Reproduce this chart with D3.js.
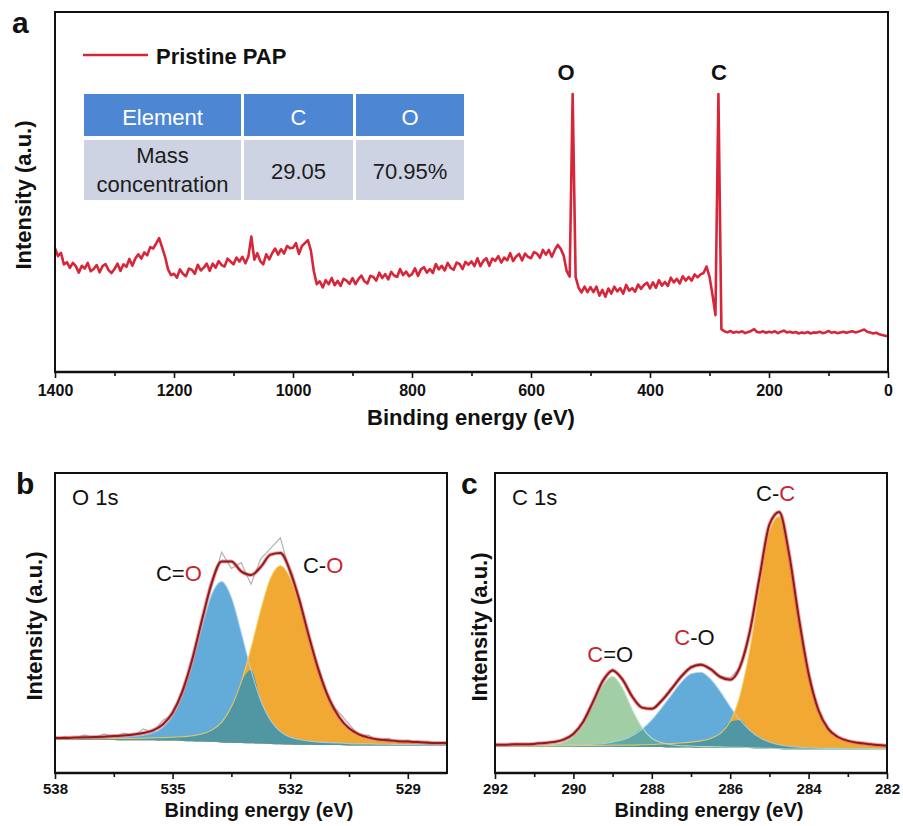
<!DOCTYPE html>
<html>
<head>
<meta charset="utf-8">
<script src="https://cdn.jsdelivr.net/npm/d3@7"></script>
<style>
  body { margin: 0; background: #fff; }
  svg { display: block; font-family: "Liberation Sans", Arial, Helvetica, sans-serif; }
</style>
</head>
<body>
<svg id="fig" width="903" height="826"></svg>
<script>
// ---------- Survey spectrum of pristine PAP (5 eV steps, 1400 -> 0 eV) ----------
const surveyIntensity = [
  34.4, 32.2, 33.1, 29.9, 30.5, 28.9, 30.3, 29.4, 27.6, 29.5, 28.7, 30.3, 28.0, 28.6, 29.7, 27.7, 29.4, 30.0, 28.3, 27.5,
  28.6, 30.1, 28.1, 29.9, 29.2, 31.4, 29.5, 31.5, 32.7, 31.5, 33.2, 32.4, 34.7, 34.3, 35.7, 37.2, 34.6, 32.0, 28.5, 26.9,
  27.3, 26.2, 28.5, 27.3, 26.6, 28.7, 28.4, 27.3, 29.8, 28.2, 29.0, 30.1, 28.1, 30.1, 29.0, 30.8, 29.7, 29.3, 31.5, 30.7,
  29.9, 31.8, 30.7, 32.0, 30.2, 32.1, 37.6, 31.2, 33.0, 30.8, 29.9, 32.7, 31.3, 33.0, 34.3, 32.6, 34.1, 32.9, 35.0, 34.4,
  34.5, 35.8, 32.8, 35.0, 35.8, 36.6, 33.8, 28.0, 24.4, 25.2, 23.5, 25.5, 24.4, 26.1, 24.1, 25.3, 23.9, 25.9, 25.4, 24.5,
  26.1, 24.4, 25.8, 26.8, 25.2, 24.6, 26.7, 26.4, 25.4, 27.6, 26.1, 27.2, 25.7, 27.8, 26.8, 26.4, 28.6, 26.9, 27.9, 26.6,
  27.2, 28.8, 26.7, 28.5, 29.1, 27.6, 28.6, 27.5, 30.0, 28.5, 29.5, 28.2, 30.3, 28.9, 28.4, 30.4, 30.0, 28.6, 30.6, 29.8,
  30.7, 29.4, 31.6, 29.4, 30.9, 31.6, 29.5, 31.5, 30.9, 32.2, 30.4, 31.8, 31.0, 33.0, 30.8, 32.1, 32.8, 31.0, 32.9, 32.0,
  31.6, 33.3, 32.9, 31.7, 33.9, 32.6, 33.9, 32.0, 33.9, 35.3, 34.2, 32.3, 28.0, 26.5, 77.2, 26.4, 23.4, 22.1, 23.7, 22.2,
  23.6, 22.2, 23.7, 21.2, 22.8, 20.9, 23.2, 21.8, 23.7, 22.4, 23.3, 21.8, 24.2, 22.6, 23.3, 22.3, 24.3, 23.1, 24.2, 24.8,
  23.2, 24.9, 23.4, 25.5, 24.0, 25.0, 23.9, 26.2, 24.9, 25.9, 24.6, 26.6, 25.4, 26.4, 25.4, 27.1, 26.3, 27.1, 27.5, 29.3,
  26.5, 21.5, 15.8, 77.2, 11.9, 11.3, 11.0, 11.4, 10.9, 11.2, 11.0, 11.3, 10.8, 11.1, 11.4, 11.9, 11.1, 11.0, 11.3, 10.9,
  11.2, 11.0, 11.3, 10.8, 11.2, 11.5, 11.0, 11.2, 10.9, 11.1, 10.7, 11.0, 10.8, 11.1, 10.7, 11.0, 10.9, 11.2, 10.8, 11.0,
  11.4, 10.9, 11.1, 10.8, 11.0, 11.2, 10.9, 11.1, 11.3, 11.0, 11.2, 11.5, 11.8, 11.2, 11.0, 10.7, 10.9, 10.5, 10.3, 10.1,
  9.9
];
const surveyEnergy = surveyIntensity.map((_, i) => 1400 - 5 * i);
const surveyTicks = [1400, 1200, 1000, 800, 600, 400, 200, 0];
const surveyMinorTicks = [1300, 1100, 900, 700, 500, 300, 100];
const surveyPeakLabels = [{ text: "O", e: 541, v: 81 }, { text: "C", e: 284, v: 81 }];

// Element table
const tableHeader = ["Element", "C", "O"];
const tableRowLabel = ["Mass", "concentration"];
const tableRowValues = ["29.05", "70.95%"];

// ---------- O 1s high-resolution spectrum (0.25 eV steps, 538 -> 528 eV) ----------
const o1sEnergy = d3.range(41).map(i => 538 - 0.25 * i);
const o1sBackground = [
  11.0, 11.0, 11.0, 11.0, 11.0, 11.0, 11.0, 10.9, 10.9, 10.9, 10.9, 10.8, 10.8, 10.7, 10.6, 10.5, 10.4, 10.2, 10.1, 10.0,
  9.9, 9.8, 9.7, 9.6, 9.5, 9.4, 9.4, 9.3, 9.3, 9.3, 9.2, 9.2, 9.2, 9.2, 9.2, 9.2, 9.2, 9.2, 9.2, 9.2, 9.2
];
const o1sCdoubleO = [
  0.4, 0.4, 0.5, 0.5, 0.6, 0.7, 0.8, 1.0, 1.3, 1.7, 2.5, 4.4, 8.2, 15.0, 25.4, 38.0, 49.2, 53.6, 48.4, 36.9,
  24.4, 14.3, 7.8, 4.2, 2.4, 1.7, 1.2, 1.0, 0.8, 0.7, 0.6, 0.5, 0.5, 0.4, 0.4, 0.3, 0.3, 0.3, 0.2, 0.2, 0.2
];
const o1sCsingleO = [
  0.3, 0.3, 0.3, 0.4, 0.4, 0.4, 0.5, 0.6, 0.6, 0.7, 0.8, 1.0, 1.1, 1.4, 1.8, 2.5, 3.9, 6.7, 12.0, 20.3,
  31.7, 44.6, 55.3, 59.5, 55.4, 45.7, 33.9, 22.9, 14.4, 8.6, 5.1, 3.2, 2.1, 1.6, 1.3, 1.1, 1.0, 0.8, 0.7, 0.6, 0.6
];
const o1sRaw = [
  11.3, 12.2, 11.5, 12.7, 11.7, 13.0, 12.0, 13.3, 12.3, 14.7, 13.6, 17.6, 19.3, 28.0, 37.1, 51.9, 62.4, 73.6, 68.2, 70.1,
  62.9, 71.4, 74.9, 78.4, 66.1, 58.0, 43.2, 34.0, 23.8, 20.1, 16.4, 12.4, 12.6, 10.7, 11.5, 10.2, 11.0, 9.9, 10.6, 9.6, 10.3
];
const o1sTicks = [538, 535, 532, 529];
const o1sMinorTicks = [536.5, 533.5, 530.5];

// ---------- C 1s high-resolution spectrum (0.25 eV steps, 292 -> 282 eV) ----------
const c1sEnergy = d3.range(41).map(i => 292 - 0.25 * i);
const c1sBackground = [
  8.8, 8.8, 8.8, 8.8, 8.8, 8.8, 8.8, 8.8, 8.8, 8.8, 8.8, 8.8, 8.8, 8.7, 8.7, 8.7, 8.7, 8.7, 8.6, 8.6,
  8.6, 8.5, 8.5, 8.5, 8.4, 8.4, 8.3, 8.2, 8.1, 8.0, 7.9, 7.9, 7.8, 7.8, 7.8, 7.8, 7.8, 7.8, 7.8, 7.8, 7.8
];
const c1sCdoubleO = [
  0.2, 0.2, 0.3, 0.3, 0.4, 0.6, 0.8, 1.5, 3.4, 7.3, 13.7, 20.5, 23.4, 19.6, 12.5, 6.5, 2.9, 1.4, 0.8, 0.5,
  0.4, 0.3, 0.3, 0.2, 0.2, 0.2, 0.1, 0.1, 0.1, 0.1, 0.1, 0.1, 0.1, 0.1, 0.1, 0.1, 0.1, 0.1, 0.1, 0.0, 0.0
];
const c1sCsingleO = [
  0.2, 0.2, 0.3, 0.3, 0.3, 0.4, 0.4, 0.5, 0.5, 0.6, 0.8, 1.0, 1.5, 2.3, 3.7, 5.9, 9.0, 13.0, 17.4, 21.6,
  24.5, 25.1, 22.8, 18.6, 13.7, 9.3, 5.9, 3.6, 2.2, 1.4, 1.0, 0.7, 0.6, 0.5, 0.4, 0.4, 0.3, 0.3, 0.3, 0.2, 0.2
];
const c1sCC = [
  0.2, 0.2, 0.2, 0.2, 0.2, 0.2, 0.3, 0.3, 0.3, 0.4, 0.4, 0.4, 0.5, 0.6, 0.6, 0.7, 0.8, 1.0, 1.2, 1.4,
  1.7, 2.2, 3.0, 4.7, 8.8, 17.5, 32.8, 53.5, 72.4, 77.5, 64.2, 43.1, 24.6, 12.6, 6.4, 3.7, 2.5, 1.9, 1.5, 1.3, 1.1
];
const c1sRaw = [
  9.5, 9.3, 9.7, 9.5, 9.9, 9.9, 10.5, 11.0, 13.2, 17.0, 23.9, 30.9, 34.8, 31.6, 25.3, 22.0, 21.2, 24.3, 28.2, 32.6,
  35.7, 36.5, 34.9, 32.3, 31.6, 35.2, 47.3, 65.2, 83.1, 87.3, 73.5, 51.6, 33.3, 20.8, 14.9, 11.8, 10.9, 9.9, 9.8, 9.2, 9.3
];
const c1sTicks = [292, 290, 288, 286, 284, 282];
const c1sMinorTicks = [291, 289, 287, 285, 283];

// ---------- styling ----------
const INK = "#111";
const RED_LABEL = "#c4262e";
const SURVEY_RED = "#d7263a";
const COL = {
  blue: "#63acd9", orange: "#f1a933", green: "#a2cea5",
  blueOrange: "#5196a3", greenBlue: "#61a7a2",
  blueEdge: "#a8d5ee", orangeEdge: "#f4cf5e", greenEdge: "#c6e3c6",
  raw: "#b3b3b3", envHalo: "#e25a5e", envCore: "#8f1b1d"
};

const svg = d3.select("#fig");
svg.append("defs");

function drawAxis(g, x, y0, major, minor, fontSize, pad) {
  const minorAxis = g.append("g").attr("transform", `translate(0,${y0})`)
    .call(d3.axisBottom(x).tickValues(minor).tickSize(4).tickSizeOuter(0).tickFormat(""));
  minorAxis.select(".domain").remove();
  const majorAxis = g.append("g").attr("transform", `translate(0,${y0})`)
    .call(d3.axisBottom(x).tickValues(major).tickSize(6).tickSizeOuter(0).tickPadding(pad).tickFormat(d3.format("d")));
  majorAxis.select(".domain").remove();
  g.selectAll(".tick line").attr("stroke", INK).attr("stroke-width", 1.6);
  majorAxis.selectAll(".tick text")
    .attr("fill", INK).attr("font-size", fontSize).attr("font-weight", "bold")
    .attr("font-family", '"Liberation Sans", Arial, sans-serif');
}

function frame(g, x0, y0, x1, y1) {
  g.append("rect").attr("x", x0).attr("y", y0).attr("width", x1 - x0).attr("height", y1 - y0)
    .attr("fill", "none").attr("stroke", INK).attr("stroke-width", 2);
  g.append("line").attr("x1", x0).attr("x2", x1).attr("y1", y1).attr("y2", y1)
    .attr("stroke", INK).attr("stroke-width", 2.6);
}

function panelLetter(text, x, y) {
  svg.append("text").attr("x", x).attr("y", y).text(text)
    .attr("font-size", 30).attr("font-weight", "bold").attr("fill", INK);
}

function yTitle(cx, cy, size) {
  svg.append("text").attr("transform", `translate(${cx},${cy}) rotate(-90)`)
    .attr("text-anchor", "middle").attr("dy", "0.35em")
    .attr("font-size", size).attr("font-weight", "bold").attr("fill", INK)
    .text("Intensity (a.u.)");
}

function xTitle(cx, by, size) {
  svg.append("text").attr("x", cx).attr("y", by).attr("text-anchor", "middle")
    .attr("font-size", size).attr("font-weight", "bold").attr("fill", INK)
    .text("Binding energy (eV)");
}

// ================= Panel a: survey =================
const A = { x0: 55, x1: 888, y0: 12, y1: 372 };
const xA = d3.scaleLinear().domain([1400, 0]).range([A.x0, A.x1]);
const yA = d3.scaleLinear().domain([0, 100]).range([A.y1, A.y0]);
const gA = svg.append("g");

svg.select("defs").append("clipPath").attr("id", "clipA")
  .append("rect").attr("x", A.x0).attr("y", A.y0).attr("width", A.x1 - A.x0).attr("height", A.y1 - A.y0);

gA.append("path")
  .datum(surveyEnergy.map((e, i) => [e, surveyIntensity[i]]))
  .attr("clip-path", "url(#clipA)")
  .attr("fill", "none").attr("stroke", SURVEY_RED).attr("stroke-width", 2.6)
  .attr("stroke-linejoin", "round")
  .attr("d", d3.line().x(d => xA(d[0])).y(d => yA(d[1])));

frame(gA, A.x0, A.y0, A.x1, A.y1);
drawAxis(gA, xA, A.y1, surveyTicks, surveyMinorTicks, 16, 7);

surveyPeakLabels.forEach(p => {
  gA.append("text").attr("x", xA(p.e)).attr("y", yA(p.v)).attr("text-anchor", "middle")
    .attr("font-size", 22).attr("font-weight", "bold").attr("fill", INK).text(p.text);
});

// legend
gA.append("line").attr("x1", 83).attr("x2", 148).attr("y1", 55).attr("y2", 55)
  .attr("stroke", SURVEY_RED).attr("stroke-width", 2.6);
gA.append("text").attr("x", 156).attr("y", 64).attr("font-size", 22).attr("font-weight", "bold")
  .attr("fill", INK).text("Pristine PAP");

// element table
const colEdges = [[84, 241], [244, 353], [356, 464]];
const headerBand = [94, 136], rowBand = [140, 200];
const tbl = gA.append("g");
colEdges.forEach(([l, r], i) => {
  tbl.append("rect").attr("x", l).attr("y", headerBand[0]).attr("width", r - l)
    .attr("height", headerBand[1] - headerBand[0]).attr("fill", "#4d87d3");
  tbl.append("rect").attr("x", l).attr("y", rowBand[0]).attr("width", r - l)
    .attr("height", rowBand[1] - rowBand[0]).attr("fill", "#cdd3e2");
  tbl.append("text").attr("x", (l + r) / 2).attr("y", 125).attr("text-anchor", "middle")
    .attr("font-size", 22).attr("fill", "#fff").text(tableHeader[i]);
});
const c0 = (colEdges[0][0] + colEdges[0][1]) / 2;
tbl.append("text").attr("x", c0).attr("y", 163).attr("text-anchor", "middle")
  .attr("font-size", 22).attr("fill", "#1c1c1c").text(tableRowLabel[0]);
tbl.append("text").attr("x", c0).attr("y", 192).attr("text-anchor", "middle")
  .attr("font-size", 22).attr("fill", "#1c1c1c").text(tableRowLabel[1]);
tableRowValues.forEach((t, i) => {
  const [l, r] = colEdges[i + 1];
  tbl.append("text").attr("x", (l + r) / 2).attr("y", 179).attr("text-anchor", "middle")
    .attr("font-size", 22).attr("fill", "#1c1c1c").text(t);
});

panelLetter("a", 12, 33);
yTitle(23, 195, 22);
xTitle(471, 425, 22);

// ================= shared drawing for fitted high-resolution panels =================
function fittedPanel(opts) {
  const { box, domain, energy, bg, comps, overlaps, raw, id } = opts;
  const x = d3.scaleLinear().domain(domain).range([box.x0, box.x1]);
  const y = d3.scaleLinear().domain([0, 100]).range([box.y1, box.y0]);
  const g = svg.append("g");
  svg.select("defs").append("clipPath").attr("id", id)
    .append("rect").attr("x", box.x0).attr("y", box.y0).attr("width", box.x1 - box.x0).attr("height", box.y1 - box.y0);
  const body = g.append("g").attr("clip-path", `url(#${id})`);
  const curve = d3.curveMonotoneX;

  // measured counts
  body.append("path")
    .datum(energy.map((e, i) => [e, raw[i]]))
    .attr("fill", "none").attr("stroke", COL.raw).attr("stroke-width", 1.2)
    .attr("d", d3.line().x(d => x(d[0])).y(d => y(d[1])));

  const area = d3.area().curve(curve)
    .x(d => x(d.e)).y0(d => y(d.b)).y1(d => y(d.b + d.v));
  const top = d3.line().curve(curve).x(d => x(d.e)).y(d => y(d.b + d.v));

  comps.forEach(c => {
    const pts = energy.map((e, i) => ({ e, b: bg[i], v: c.values[i] }));
    body.append("path").datum(pts).attr("fill", c.fill).attr("d", area);
  });
  overlaps.forEach(o => {
    const pts = energy.map((e, i) => ({ e, b: bg[i], v: Math.min(o.a[i], o.b[i]) }));
    body.append("path").datum(pts).attr("fill", o.fill).attr("d", area);
  });
  comps.forEach(c => {
    const pts = energy.map((e, i) => ({ e, b: bg[i], v: c.values[i] }));
    body.append("path").datum(pts).attr("fill", "none").attr("stroke", c.edge)
      .attr("stroke-width", 1.1).attr("stroke-opacity", 0.85).attr("d", top);
  });

  // fitted envelope = background + all components
  const env = energy.map((e, i) => ({ e, b: bg[i], v: d3.sum(comps, c => c.values[i]) }));
  body.append("path").datum(env).attr("fill", "none").attr("stroke", COL.envHalo)
    .attr("stroke-width", 4).attr("stroke-opacity", 0.55).attr("d", top);
  body.append("path").datum(env).attr("fill", "none").attr("stroke", COL.envCore)
    .attr("stroke-width", 2).attr("d", top);

  frame(g, box.x0, box.y0, box.x1, box.y1);
  drawAxis(g, x, box.y1, opts.ticks, opts.minor, 15, 4);

  opts.labels.forEach(l => {
    const t = g.append("text").attr("x", x(l.e)).attr("y", y(l.v)).attr("text-anchor", "middle")
      .attr("font-size", 22).attr("fill", INK);
    l.parts.forEach(([s, red]) => t.append("tspan").attr("fill", red ? RED_LABEL : INK).text(s));
  });
  g.append("text").attr("x", box.x0 + 17).attr("y", box.y0 + 32).attr("font-size", 22)
    .attr("fill", INK).text(opts.title);
  return { x, y };
}

// ================= Panel b: O 1s =================
fittedPanel({
  id: "clipB",
  box: { x0: 55, x1: 447, y0: 473, y1: 773 },
  domain: [538, 528],
  energy: o1sEnergy, bg: o1sBackground, raw: o1sRaw,
  comps: [
    { values: o1sCdoubleO, fill: COL.blue, edge: COL.blueEdge },
    { values: o1sCsingleO, fill: COL.orange, edge: COL.orangeEdge }
  ],
  overlaps: [{ a: o1sCdoubleO, b: o1sCsingleO, fill: COL.blueOrange }],
  ticks: o1sTicks, minor: o1sMinorTicks,
  title: "O 1s",
  labels: [
    { e: 534.84, v: 64, parts: [["C=", false], ["O", true]] },
    { e: 531.16, v: 66.7, parts: [["C-", false], ["O", true]] }
  ]
});
panelLetter("b", 16, 494);
yTitle(34, 626, 22);
xTitle(259, 817, 20);

// ================= Panel c: C 1s =================
fittedPanel({
  id: "clipC",
  box: { x0: 495, x1: 887, y0: 473, y1: 773 },
  domain: [292, 282],
  energy: c1sEnergy, bg: c1sBackground, raw: c1sRaw,
  comps: [
    { values: c1sCdoubleO, fill: COL.green, edge: COL.greenEdge },
    { values: c1sCsingleO, fill: COL.blue, edge: COL.blueEdge },
    { values: c1sCC, fill: COL.orange, edge: COL.orangeEdge }
  ],
  overlaps: [
    { a: c1sCdoubleO, b: c1sCsingleO, fill: COL.greenBlue },
    { a: c1sCsingleO, b: c1sCC, fill: COL.blueOrange }
  ],
  ticks: c1sTicks, minor: c1sMinorTicks,
  title: "C 1s",
  labels: [
    { e: 289.06, v: 37, parts: [["C", true], ["=O", false]] },
    { e: 286.91, v: 42.7, parts: [["C", true], ["-O", false]] },
    { e: 284.84, v: 90.7, parts: [["C-", false], ["C", true]] }
  ]
});
panelLetter("c", 461, 494);
yTitle(479, 627, 22);
xTitle(709, 817, 20);
</script>
</body>
</html>
